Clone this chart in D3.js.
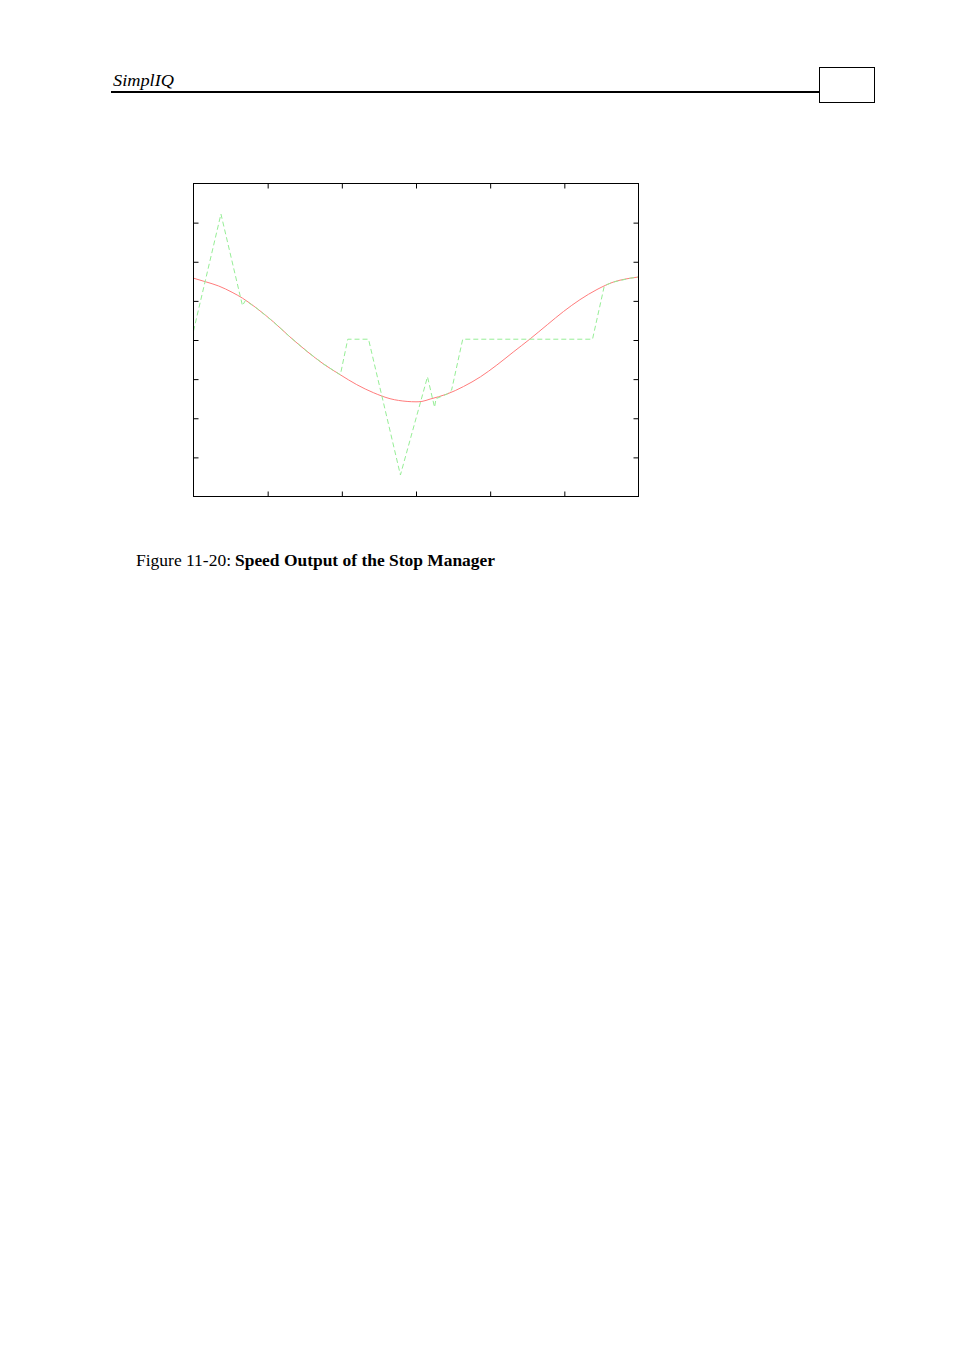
<!DOCTYPE html>
<html>
<head>
<meta charset="utf-8">
<script src="https://cdn.jsdelivr.net/npm/d3@7/dist/d3.min.js"></script>
<style>
  html, body { margin: 0; padding: 0; background: #fff; }
  svg { display: block; }
</style>
</head>
<body>
<script>
// ---- data ----
const xTicks = [1, 2, 3, 4, 5];
const yTicks = [1, 2, 3, 4, 5, 6, 7];

// reference speed (red, solid)
const refX = [0, 0.16, 0.34, 0.52, 0.66, 0.86, 1.08, 1.30, 1.53, 1.75, 1.98, 2.20, 2.43, 2.65, 2.88, 3.00, 3.08, 3.19, 3.42, 3.64, 3.87, 4.09, 4.31, 4.54, 4.77, 4.99, 5.21, 5.44, 5.66, 5.89, 6.00];
const refY = [5.58, 5.49, 5.38, 5.22, 5.07, 4.80, 4.46, 4.08, 3.71, 3.39, 3.11, 2.86, 2.65, 2.50, 2.43, 2.42, 2.43, 2.49, 2.62, 2.81, 3.06, 3.36, 3.69, 4.03, 4.39, 4.73, 5.03, 5.29, 5.48, 5.58, 5.61];

// stop manager output (green, dashed)
const outX = [0, 0.37, 0.66, 0.70, 0.86, 1.08, 1.30, 1.53, 1.75, 1.98, 2.08, 2.36, 2.79, 3.155, 3.25, 3.27, 3.42, 3.48, 3.63, 5.38, 5.54, 5.66, 5.89, 6.00];
const outY = [4.23, 7.22, 4.88, 5.01, 4.80, 4.46, 4.08, 3.71, 3.39, 3.11, 4.02, 4.02, 0.55, 3.06, 2.28, 2.50, 2.62, 2.72, 4.02, 4.02, 5.39, 5.48, 5.58, 5.61];

const headerText = "SimplIQ";
const captionLabel = "Figure 11-20:";
const captionTitle = "Speed Output of the Stop Manager";

// ---- layout ----
const W = 954, H = 1351;
const plot = { left: 193.5, top: 183.5, width: 445, height: 313 };
const serif = "'Liberation Serif', 'DejaVu Serif', serif";

const svg = d3.select("body").append("svg")
  .attr("width", W).attr("height", H)
  .attr("viewBox", `0 0 ${W} ${H}`);

svg.append("rect").attr("width", W).attr("height", H).attr("fill", "#fff");

// header
svg.append("text")
  .attr("x", 113).attr("y", 86)
  .attr("font-family", serif)
  .attr("font-style", "italic")
  .attr("font-size", 17.5)
  .attr("textLength", 61)
  .attr("lengthAdjust", "spacingAndGlyphs")
  .attr("fill", "#000")
  .text(headerText);

svg.append("line")
  .attr("x1", 111).attr("x2", 819)
  .attr("y1", 92).attr("y2", 92)
  .attr("stroke", "#000").attr("stroke-width", 2);

svg.append("rect")
  .attr("x", 819.5).attr("y", 67.5)
  .attr("width", 55).attr("height", 35)
  .attr("fill", "none").attr("stroke", "#000").attr("stroke-width", 1);

// chart
const x = d3.scaleLinear().domain([0, 6]).range([0, plot.width]);
const y = d3.scaleLinear().domain([0, 8]).range([plot.height, 0]);

const g = svg.append("g").attr("transform", `translate(${plot.left},${plot.top})`);

const tickLen = 5;
function styleAxis(sel) {
  sel.select(".domain").remove();
  sel.selectAll(".tick line").attr("stroke", "#000").attr("stroke-width", 1);
  sel.selectAll(".tick text").remove();
}

g.append("g").attr("transform", `translate(0,${plot.height})`)
  .call(d3.axisBottom(x).tickValues(xTicks).tickSize(-tickLen).tickFormat(""))
  .call(styleAxis);
g.append("g")
  .call(d3.axisTop(x).tickValues(xTicks).tickSize(-tickLen).tickFormat(""))
  .call(styleAxis);
g.append("g")
  .call(d3.axisLeft(y).tickValues(yTicks).tickSize(-tickLen).tickFormat(""))
  .call(styleAxis);
g.append("g").attr("transform", `translate(${plot.width},0)`)
  .call(d3.axisRight(y).tickValues(yTicks).tickSize(-tickLen).tickFormat(""))
  .call(styleAxis);

const refData = refX.map((v, i) => [v, refY[i]]);
const outData = outX.map((v, i) => [v, outY[i]]);

g.append("path").datum(refData)
  .attr("d", d3.line().x(d => x(d[0])).y(d => y(d[1])).curve(d3.curveMonotoneX))
  .attr("fill", "none")
  .attr("stroke", "#ff7c7c")
  .attr("stroke-width", 1);

g.append("path").datum(outData)
  .attr("d", d3.line().x(d => x(d[0])).y(d => y(d[1])))
  .attr("fill", "none")
  .attr("stroke", "#96ee96")
  .attr("stroke-width", 1)
  .attr("stroke-dasharray", "5,3");

// frame
g.append("rect")
  .attr("x", 0).attr("y", 0)
  .attr("width", plot.width).attr("height", plot.height)
  .attr("fill", "none").attr("stroke", "#000").attr("stroke-width", 1);

// caption
svg.append("text")
  .attr("x", 136).attr("y", 566)
  .attr("font-family", serif)
  .attr("font-size", 16)
  .attr("textLength", 95)
  .attr("lengthAdjust", "spacingAndGlyphs")
  .attr("fill", "#000")
  .text(captionLabel);
svg.append("text")
  .attr("x", 235).attr("y", 566)
  .attr("font-family", serif)
  .attr("font-size", 16)
  .attr("font-weight", "bold")
  .attr("textLength", 260)
  .attr("lengthAdjust", "spacingAndGlyphs")
  .attr("fill", "#000")
  .text(captionTitle);
</script>
</body>
</html>
